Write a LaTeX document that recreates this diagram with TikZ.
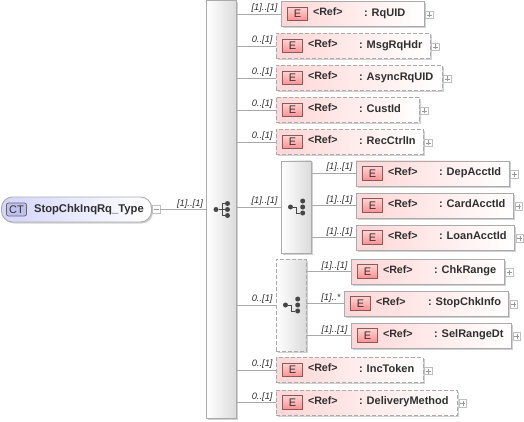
\documentclass[tikz,border=0pt]{standalone}
\usepackage{fontspec}
\setmainfont{Liberation Sans}
\usetikzlibrary{calc,shadows}
\definecolor{ln}{HTML}{A8A8A8}
\definecolor{bd}{HTML}{ABABAB}
\definecolor{pk}{HTML}{FFD6D6}
\definecolor{lav}{HTML}{D4D4FF}
\definecolor{ebox}{HTML}{FF9090}
\definecolor{ebd}{HTML}{8A5A5A}
\definecolor{ctb}{HTML}{C0C0F0}
\definecolor{tx}{HTML}{303030}
\tikzset{
  x=1pt,y=-1pt,
  every node/.style={inner sep=0,outer sep=0},
  elembox/.style={draw=bd,line width=.9pt,left color=pk,right color=white,anchor=north west,minimum height=25pt,
     general shadow={shadow xshift=1.5pt,shadow yshift=-1.5pt,fill=black!18}},
  optbox/.style={elembox,dash pattern=on 4pt off 2pt},
  groupbox/.style={draw=bd,line width=.9pt,left color=white,right color=black!14,anchor=north west,minimum width=30pt,
     general shadow={shadow xshift=1.5pt,shadow yshift=-1.5pt,fill=black!18}},
  ebadge/.style={draw=ebd,line width=.7pt,top color=ebox!40,bottom color=ebox,minimum width=20pt,minimum height=13.5pt,
     font=\fontsize{11}{11}\selectfont,text=tx},
  reftext/.style={font=\fontsize{10.7}{12}\selectfont\bfseries,text=tx,anchor=base west},
  nametext/.style={font=\fontsize{11}{12}\selectfont\bfseries,text=tx,anchor=base west},
  card/.style={font=\fontsize{9.3}{10}\selectfont\itshape,text=tx,anchor=base east},
  expander/.style={draw=black!25,line width=.6pt,fill=white,minimum width=7.5pt,minimum height=7.5pt,anchor=west},
  conn/.style={draw=ln,line width=.8pt},
  sign/.style={draw=black!40,line width=.5pt},
  icon/.style={draw=black!72,line width=.9pt},
  icondot/.style={fill=black!72,circle,minimum size=5pt},
}
% #1 name #2 style #3 x #4 y #5 width #6 name text #7 x offset of colon
\newcommand\elem[7]{%
  \node[#2,minimum width=#5pt] (#1) at (#3,#4) {};
  \node[ebadge,anchor=west] (#1b) at ($(#1.west)+(6.5,0)$) {E};
  \node[reftext] (#1r) at ($(#1.west)+(32,1.7)$) {<Ref>};
  \node[nametext] (#1n) at ($(#1.west)+(#7,2.4)$) {: #6};
  \node[expander] (#1x) at ($(#1.east)+(1.5,1)$) {};
  \draw[sign] ($(#1x.center)+(-2.5,0)$) -- ($(#1x.center)+(2.5,0)$) ($(#1x.center)+(0,-2.5)$) -- ($(#1x.center)+(0,2.5)$);
}
\newcommand\link[3]{%
  \draw[conn] (#1.east |- #2.west) -- (#2.west);
  \node[card] at ($(#2.west)+(-3.5,-3.5)$) {#3};
}
% #1 group, #2 dx of left dot, #3 dx of right dots
\newcommand\groupdots[3]{%
  \node[icondot] (#1d0) at ($(#1.center)+(#2,0)$) {};
  \node[icondot] (#1d1) at ($(#1.center)+(#3,-6)$) {};
  \node[icondot] (#1d2) at ($(#1.center)+(#3,0)$) {};
  \node[icondot] (#1d3) at ($(#1.center)+(#3,6)$) {};
  \coordinate (#1j) at ($(#1.center)+(.5,0)$);
  \draw[icon] (#1d0) -- (#1j);
  \draw[icon] (#1j) |- (#1d3);
}
\begin{document}
\begin{tikzpicture}
\useasboundingbox (0,0) rectangle (524,422);
\fill[white] (0,0) rectangle (524,422);
% root
\node[draw=bd,line width=.9pt,rounded corners=11pt,left color=lav,right color=white,anchor=north west,minimum width=150pt,minimum height=25pt,
   general shadow={shadow xshift=1.5pt,shadow yshift=-1.5pt,fill=black!18}] (root) at (1.5,197) {};
\node[draw=black!60,line width=.7pt,rounded corners=2pt,fill=ctb,minimum width=20pt,minimum height=13pt,
   font=\fontsize{11}{11}\selectfont,text=tx] (ct) at (16.5,209.5) {CT};
\node[font=\fontsize{11.25}{12}\selectfont\bfseries,text=tx,anchor=base west] (rootn) at (34,212.5) {StopChkInqRq\_Type};
\node[expander,minimum width=8pt,minimum height=8pt] (rootx) at (152,209.5) {};
\draw[sign] ($(rootx.center)+(-2.5,0)$) -- ($(rootx.center)+(2.5,0)$);
% groups
\node[groupbox,minimum height=418pt] (main) at (206.5,0.5) {};
\node[groupbox,minimum height=92pt] (seq) at (281,161) {};
\node[groupbox,dash pattern=on 4pt off 2pt,minimum height=92pt] (cho) at (276,259) {};
% elements
\elem{a}{elembox}{281}{1.5}{143}{RqUID}{83}
\elem{b}{optbox}{276}{33.5}{154}{MsgRqHdr}{83}
\elem{c}{optbox}{276}{65.5}{166}{AsyncRqUID}{83}
\elem{d}{optbox}{276}{97.5}{143}{CustId}{83}
\elem{e}{optbox}{276}{129.5}{147}{RecCtrlIn}{83}
\elem{f}{elembox}{356}{161}{153}{DepAcctId}{83}
\elem{g}{elembox}{356}{193}{157.5}{CardAcctId}{83}
\elem{h}{elembox}{356}{225}{158.5}{LoanAcctId}{83}
\elem{i}{elembox}{351}{259}{153}{ChkRange}{83}
\elem{j}{elembox}{344}{291}{164.5}{StopChkInfo}{84}
\elem{k}{elembox}{351}{323}{160.5}{SelRangeDt}{83}
\elem{l}{optbox}{276}{357.5}{147}{IncToken}{83}
\elem{m}{optbox}{276}{390}{181.5}{DeliveryMethod}{83}
% links
\draw[conn] (rootx.east) -- (main.west |- rootx.east);
\node[card] at (203,206) {[1]..[1]};
\link{main}{a}{[1]..[1]}
\link{main}{b}{0..[1]}
\link{main}{c}{0..[1]}
\link{main}{d}{0..[1]}
\link{main}{e}{0..[1]}
\link{main}{seq}{[1]..[1]}
\link{main}{cho}{0..[1]}
\link{main}{l}{0..[1]}
\link{main}{m}{0..[1]}
\link{seq}{f}{[1]..[1]}
\link{seq}{g}{[1]..[1]}
\link{seq}{h}{[1]..[1]}
\link{cho}{i}{[1]..[1]}
\link{cho}{j}{[1]..*}
\link{cho}{k}{[1]..[1]}
% group icons
\groupdots{main}{-5.5}{6}
\draw[icon] (mainj) |- (maind1);
\draw[icon] (mainj) -- (maind2);
\groupdots{seq}{-5.5}{6.7}
\groupdots{cho}{-5.5}{6.7}
\end{tikzpicture}
\end{document}
